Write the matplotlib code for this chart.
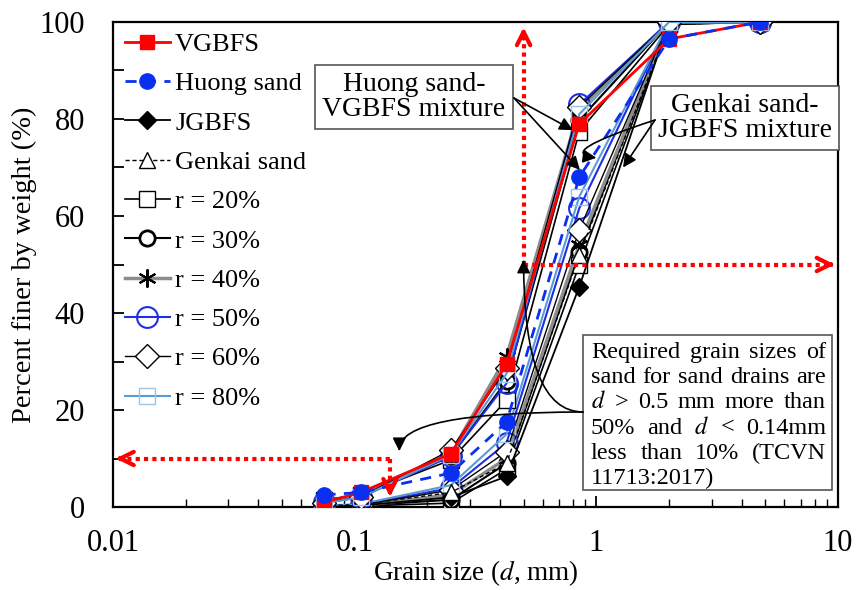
import numpy as np
import matplotlib
matplotlib.use("Agg")
import matplotlib.pyplot as plt
from matplotlib.patches import Rectangle

plt.rcParams['font.family'] = ['Liberation Serif', 'DejaVu Serif']
plt.rcParams['mathtext.fontset'] = 'stix'

# Sieve sizes (mm)
sieve = [0.075, 0.106, 0.25, 0.425, 0.85, 2.0, 4.75]

# Base materials: percent finer by weight
vgbfs = [1.0, 3.0, 11.0, 29.5, 79.0, 96.5, 100]
huong = [2.5, 3.0, 7.0, 17.5, 68.0, 96.5, 100]
jgbfs = [0.0, 0.3, 2.0, 6.3, 45.4, 100, 100]
genkai = [0.3, 0.5, 3.0, 9.0, 52.0, 99.5, 100]

# Huong sand - VGBFS mixtures
hv_r20 = [1.5, 2.5, 9.7, 22.0, 77.4, 99.5, 100]
hv_r30 = [1.2, 2.3, 10.5, 26.0, 79.8, 100, 100]
hv_r40 = [1.0, 2.2, 11.0, 31.0, 82.0, 100, 100]
hv_r50 = [1.0, 2.0, 10.5, 25.5, 83.0, 100, 100]
hv_r60 = [0.8, 2.1, 11.75, 28.6, 82.5, 100, 100]
hv_r80 = [0.8, 2.0, 10.8, 27.5, 81.0, 100, 100]

# Genkai sand - JGBFS mixtures
gj_r20 = [0.0, 0.2, 0.8, 7.8, 49.9, 99.5, 100]
gj_r30 = [0.0, 0.3, 1.5, 9.0, 52.5, 100, 100]
gj_r40 = [0.0, 0.3, 2.5, 10.0, 54.0, 100, 100]
gj_r50 = [0.2, 0.5, 3.9, 13.2, 61.6, 100, 100]
gj_r60 = [0.0, 0.4, 3.5, 11.4, 57.1, 100, 100]
gj_r80 = [0.3, 0.6, 4.5, 15.0, 64.0, 100, 100]

ratio_labels = ["r = 20%", "r = 30%", "r = 40%", "r = 50%", "r = 60%", "r = 80%"]

W, H = 858, 590
fig = plt.figure(figsize=(W / 100, H / 100), dpi=100)
L, R, T, B = 113, 838, 22, 507
ax = fig.add_axes([L / W, 1 - B / H, (R - L) / W, (B - T) / H])

ax.set_xscale('log')
ax.set_xlim(0.01, 10)
ax.set_ylim(0, 100)

mix_styles = [
    dict(color='black', lw=1.2, marker='s', ms=11, mfc='white', mec='black', mew=1.0),
    dict(color='black', lw=1.5, marker='o', ms=11, mfc='white', mec='black', mew=2.0),
    dict(color='#8c8c8c', lw=2.5, marker=(6, 2, 0), ms=13, mfc='black', mec='black', mew=1.5),
    dict(color='#1f2fe8', lw=1.5, marker='o', ms=15, mfc='none', mec='#1f2fe8', mew=1.5),
    dict(color='black', lw=1.0, marker='D', ms=12, mfc='white', mec='black', mew=1.0),
    dict(color='#5b9bd5', lw=1.5, marker='s', ms=11, mfc='none', mec='#9dc3e6', mew=1.0),
]

# Genkai sand - JGBFS mixture curves (share the legend entries of the other set)
for ys, st in zip([gj_r20, gj_r30, gj_r40, gj_r50, gj_r60, gj_r80], mix_styles):
    ax.plot(sieve, ys, zorder=3, **st)

# Base materials
h_j, = ax.plot(sieve, jgbfs, color='black', lw=1.3, marker='D', ms=9, mfc='black',
               mec='black', label='JGBFS', zorder=4)
h_g, = ax.plot(sieve, genkai, color='black', lw=1.0, ls=(0, (3, 2)), marker='^', ms=11,
               mfc='white', mec='black', label='Genkai sand', zorder=4)

# Huong sand - VGBFS mixture curves
mix_handles = []
for ys, st, lab in zip([hv_r20, hv_r30, hv_r40, hv_r50, hv_r60, hv_r80], mix_styles, ratio_labels):
    h, = ax.plot(sieve, ys, zorder=5, label=lab, **st)
    mix_handles.append(h)

h_v, = ax.plot(sieve, vgbfs, color='#ff0000', lw=2.0, marker='s', ms=10, mfc='#ff0000',
               mec='#ff0000', label='VGBFS', zorder=6)
h_h, = ax.plot(sieve, huong, color='#0a2ff0', lw=2.0, ls=(0, (4, 3)), marker='o', ms=11,
               mfc='#0a2ff0', mec='#0a2ff0', label='Huong sand', zorder=6)

handles = [h_v, h_h, h_j, h_g] + mix_handles
ax.legend(handles=handles, loc='upper left', bbox_to_anchor=(0.002, 1.0), frameon=False,
          fontsize=19, handlelength=1.7, handletextpad=0.2, labelspacing=0.6,
          borderaxespad=0.0)

# Design limits: d > 0.5 mm more than 50 %, d < 0.14 mm less than 10 %
d_coarse, p_coarse = 0.5, 50
d_fine, p_fine = 0.14, 10
red_kw = dict(color='#ff0000', lw=3, ls=(0, (1, 1)))
ax.plot([d_coarse, d_coarse], [p_coarse, 97], zorder=7, **red_kw)
ax.plot([d_coarse, 9.5], [p_coarse, p_coarse], zorder=7, **red_kw)
ax.plot([d_fine, d_fine], [p_fine, 3], zorder=7, **red_kw)
ax.plot([0.0106, d_fine], [p_fine, p_fine], zorder=7, **red_kw)
head_kw = dict(arrowstyle='->', color='#ff0000', lw=3, mutation_scale=24)
ax.annotate('', xy=(d_coarse, 99.5), xytext=(d_coarse, 96), arrowprops=head_kw, zorder=8)
ax.annotate('', xy=(9.95, p_coarse), xytext=(9.0, p_coarse), arrowprops=head_kw, zorder=8)
ax.annotate('', xy=(d_fine, 1.5), xytext=(d_fine, 4.5), arrowprops=head_kw, zorder=8)
ax.annotate('', xy=(0.01, p_fine), xytext=(0.0112, p_fine), arrowprops=head_kw, zorder=8)

# Axes styling
for sp in ax.spines.values():
    sp.set_linewidth(1.6)
ax.set_xticks([0.01, 0.1, 1, 10])
ax.set_xticklabels(['0.01', '0.1', '1', '10'])
ax.set_yticks(np.arange(0, 101, 20))
ax.set_yticks(np.arange(0, 101, 10), minor=True)
ax.tick_params(axis='both', which='both', direction='in', top=False, right=False)
ax.tick_params(axis='both', which='major', labelsize=22, length=8, width=1.3)
ax.tick_params(axis='x', which='major', pad=16)
ax.tick_params(axis='y', which='major', pad=20)
ax.tick_params(axis='y', which='minor', length=8, width=1.3)
ax.tick_params(axis='x', which='minor', length=6, width=1.0)
ax.set_xlabel('Grain size ($d$, mm)', fontsize=19.5, labelpad=0)
ax.set_ylabel('Percent finer by weight (%)', fontsize=20.5, labelpad=2)


def fig_pt(px, py):
    return (px / W, 1 - py / H)


# Labelled boxes
box_kw = dict(boxstyle='square,pad=0.25', fc='white', ec='#555555', lw=1.2)
ax.text(*fig_pt(414, 97), 'Huong sand-\nVGBFS mixture', transform=fig.transFigure,
        ha='center', va='center', fontsize=20, linespacing=1.05, bbox=box_kw, zorder=9)
ax.text(*fig_pt(745, 118), 'Genkai sand-\nJGBFS mixture', transform=fig.transFigure,
        ha='center', va='center', fontsize=20, linespacing=1.05, bbox=box_kw, zorder=9)

arr_kw = dict(arrowstyle='-|>', color='black', lw=1.2, mutation_scale=20,
              shrinkA=0, shrinkB=0)
for tip in [(0.80, 77.7), (0.855, 69.5)]:
    ax.annotate('', xy=tip, xytext=fig_pt(514, 98), textcoords='figure fraction',
                arrowprops=arr_kw, zorder=9)
ax.annotate('', xy=(1.0, 72.0), xytext=fig_pt(655, 120), textcoords='figure fraction',
            arrowprops=dict(connectionstyle='angle3,angleA=-162,angleB=173', **arr_kw),
            zorder=9)
ax.annotate('', xy=(1.29, 70.0), xytext=fig_pt(655, 120), textcoords='figure fraction',
            arrowprops=arr_kw, zorder=9)

# Requirement note box
bx0, by0, bx1, by1 = 583, 335, 832, 490
ax.add_patch(Rectangle(fig_pt(bx0, by1), (bx1 - bx0) / W, (by1 - by0) / H,
                       transform=fig.transFigure, fc='white', ec='#555555', lw=1.2,
                       zorder=9, clip_on=False))
ax.annotate('', xy=(0.50, 51), xytext=fig_pt(bx0, 412), textcoords='figure fraction',
            arrowprops=dict(connectionstyle='angle3,angleA=180,angleB=90', **arr_kw),
            zorder=9)
ax.annotate('', xy=(0.153, 11.5), xytext=fig_pt(bx0, 412), textcoords='figure fraction',
            arrowprops=dict(connectionstyle='angle3,angleA=180,angleB=90', **arr_kw),
            zorder=9)

note_lines = [
    ["Required", "grain", "sizes", "of"],
    ["sand", "for", "sand", "drains", "are"],
    ["$d$", ">", "0.5", "mm", "more", "than"],
    ["50%", "and", "$d$", "<", "0.14mm"],
    ["less", "than", "10%", "(TCVN"],
    ["11713:2017)"],
]
tx0, tx1 = 591, 826
ty0, dy = 358, 25.2
renderer = fig.canvas.get_renderer()
for i, words in enumerate(note_lines):
    yb = ty0 + i * dy
    texts = [ax.text(0, 0, w, transform=fig.transFigure, fontsize=17.5, va='baseline',
                     ha='left', zorder=10) for w in words]
    widths = [t.get_window_extent(renderer).width for t in texts]
    if len(words) > 1 and i < len(note_lines) - 1:
        gap = (tx1 - tx0 - sum(widths)) / (len(words) - 1)
    else:
        gap = 0.25 * 17.5 * 100 / 72
    x = tx0
    for t, w in zip(texts, widths):
        t.set_position(fig_pt(x, yb))
        x += w + gap

fig.savefig('out.png', dpi=100)
